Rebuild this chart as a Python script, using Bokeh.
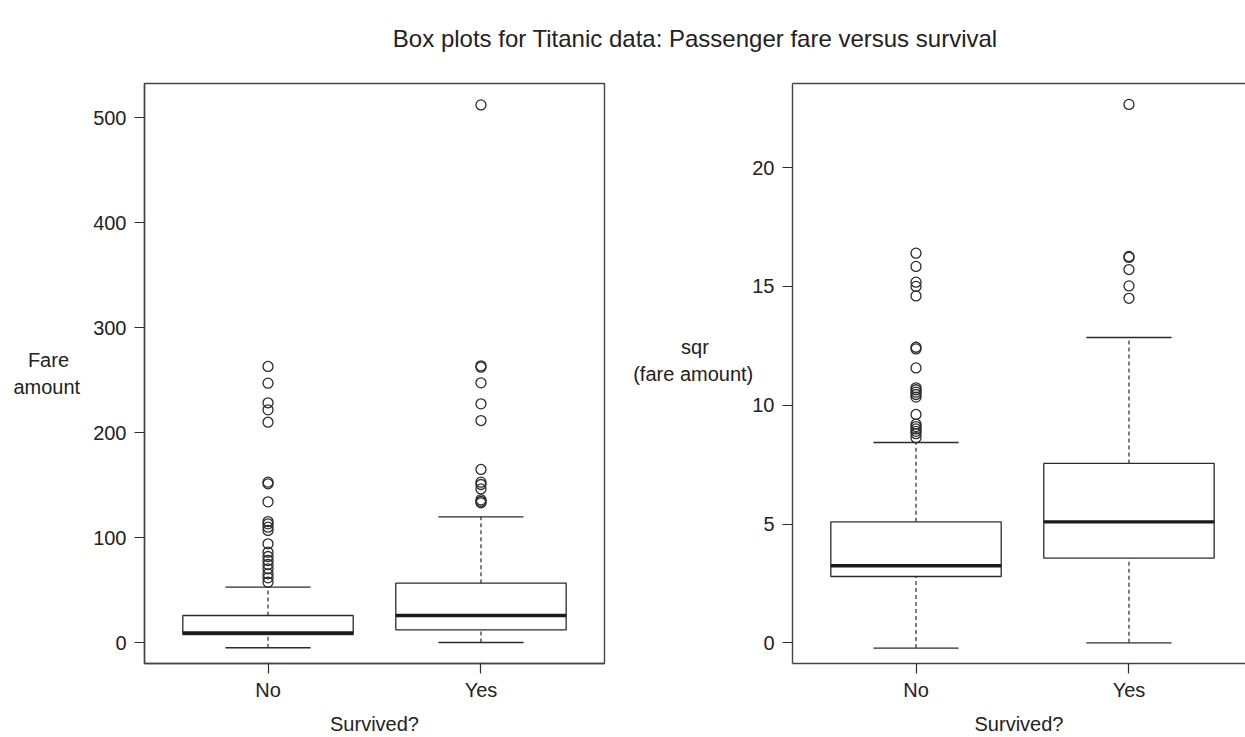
from bokeh.plotting import figure
from bokeh.models import Range1d, FixedTicker, LinearAxis, Div, ColumnDataSource
from bokeh.layouts import column, row
from bokeh.transform import dodge
from bokeh.embed import file_html
from bokeh.resources import INLINE

# ---------------- data ----------------
categories = ["No", "Yes"]

# Panel 1: fare amount
fare_lower = [-5.0, 0.0]
fare_q1 = [7.6, 12.1]
fare_median = [9.2, 25.7]
fare_q3 = [25.7, 56.5]
fare_upper = [52.7, 119.7]
fare_out_no = [57.4, 61.6, 65.4, 70.2, 74.3, 78.1, 81.9, 86.0, 94.0, 106.7,
               109.8, 113.0, 115.2, 134.0, 151.1, 152.7, 209.8, 221.6, 228.3,
               247.0, 262.9]
fare_out_yes = [133.0, 134.3, 135.9, 146.3, 150.5, 152.7, 164.8, 211.4, 227.3,
                247.3, 262.2, 263.5, 512.0]
fare_ticks = [0, 100, 200, 300, 400, 500]

# Panel 2: square root of fare amount
sqr_lower = [-0.22, 0.0]
sqr_q1 = [2.79, 3.56]
sqr_median = [3.24, 5.09]
sqr_q3 = [5.09, 7.55]
sqr_upper = [8.43, 12.85]
sqr_out_no = [8.63, 8.8, 8.9, 9.0, 9.1, 9.2, 9.61, 10.34, 10.45, 10.55, 10.65,
              10.73, 11.57, 12.37, 12.44, 14.6, 15.0, 15.18, 15.84, 16.4]
sqr_out_yes = [14.5, 15.02, 15.71, 16.22, 16.26, 22.66]
sqr_ticks = [0, 5, 10, 15, 20]

title_text = "Box plots for Titanic data: Passenger fare versus survival"
xlabel = "Survived?"
NB = "\u00a0"
# lines are right-aligned by the axis; non-breaking spaces centre the short line
ylabel_fare = "Fare" + NB * 2 + "\namount"
ylabel_sqr = "sqr" + NB * 8 + "\n(fare amount)\n" + NB

# ---------------- styling ----------------
FONT = "Liberation Sans"
TXT = "#222222"
LINE = "#2b2b2b"
FRAME = "#444444"
FS = "20px"


def panel(width, b_left, b_right, x_end, y_lo, y_hi, yticks, ylabel,
          lo, q1, med, q3, hi, out_no, out_yes, full_outline, label_standoff):
    p = figure(width=width, height=677,
               x_range=Range1d(0.42, x_end), y_range=Range1d(y_lo, y_hi),
               output_backend="svg", toolbar_location=None,
               min_border_left=b_left, min_border_right=b_right,
               min_border_top=23, min_border_bottom=74)
    p.grid.visible = False
    p.background_fill_color = "white"
    p.border_fill_color = "white"

    xs = [i + 1 for i in range(len(categories))]
    src = ColumnDataSource(dict(x=xs, lo=lo, q1=q1, med=med, q3=q3, hi=hi))

    # whiskers
    p.segment(x0="x", y0="q3", x1="x", y1="hi", source=src,
              line_dash="4 3", line_width=1.2, line_color=LINE)
    p.segment(x0="x", y0="lo", x1="x", y1="q1", source=src,
              line_dash="4 3", line_width=1.2, line_color=LINE)
    # staples
    p.segment(x0=dodge("x", -0.2), y0="hi", x1=dodge("x", 0.2), y1="hi",
              source=src, line_width=1.3, line_color=LINE)
    p.segment(x0=dodge("x", -0.2), y0="lo", x1=dodge("x", 0.2), y1="lo",
              source=src, line_width=1.3, line_color=LINE)
    # boxes
    p.vbar(x="x", width=0.8, bottom="q1", top="q3", source=src,
           fill_color="white", line_color=LINE, line_width=1.3)
    # medians
    p.segment(x0=dodge("x", -0.4), y0="med", x1=dodge("x", 0.4), y1="med",
              source=src, line_width=3.4, line_color="#1a1a1a")
    # outliers
    ox = [xs[0]] * len(out_no) + [xs[1]] * len(out_yes)
    oy = list(out_no) + list(out_yes)
    p.scatter(ox, oy, marker="circle", size=10, fill_color=None,
              line_color=LINE, line_width=1.3)

    # axes
    for ax in (p.xaxis, p.yaxis):
        ax.major_label_text_font = FONT
        ax.major_label_text_font_size = FS
        ax.major_label_text_color = TXT
        ax.axis_label_text_font = FONT
        ax.axis_label_text_font_size = FS
        ax.axis_label_text_font_style = "normal"
        ax.axis_label_text_color = TXT
        ax.major_tick_out = 10
        ax.major_tick_in = 0
        ax.major_tick_line_color = LINE
        ax.major_tick_line_width = 1.2
        ax.minor_tick_line_color = None
        ax.axis_line_color = FRAME
        ax.axis_line_width = 1.4

    p.xaxis.ticker = FixedTicker(ticks=xs)
    p.xaxis.major_label_overrides = {x: c for x, c in zip(xs, categories)}
    p.xaxis.major_label_standoff = 5
    p.xaxis.axis_label = xlabel
    p.xaxis.axis_label_standoff = 9

    p.yaxis.ticker = FixedTicker(ticks=yticks)
    p.yaxis.major_label_standoff = 8
    p.yaxis.axis_label = ylabel
    p.yaxis.axis_label_standoff = label_standoff
    p.yaxis.axis_label_orientation = "horizontal"

    if full_outline:
        p.outline_line_color = FRAME
        p.outline_line_width = 1.4
    else:
        p.outline_line_color = None
        top = LinearAxis(ticker=FixedTicker(ticks=[]), major_label_text_font_size="0px",
                         axis_line_color=FRAME, axis_line_width=1.4,
                         major_tick_line_color=None, minor_tick_line_color=None)
        p.add_layout(top, "above")
    return p


# pixel geometry: frames 460 px wide for 0.42..2.58
p1 = panel(615, 144, 11, 2.58, -20.0, 532.4, fare_ticks, ylabel_fare,
           fare_lower, fare_q1, fare_median, fare_q3, fare_upper,
           fare_out_no, fare_out_yes, True, 10)
p2 = panel(630, 177, 0, 0.42 + 453 / 212.96, -0.871, 23.54, sqr_ticks, ylabel_sqr,
           sqr_lower, sqr_q1, sqr_median, sqr_q3, sqr_upper,
           sqr_out_no, sqr_out_yes, False, -4)

title = Div(text=title_text, width=1245, height=60, margin=(0, 0, 0, 0),
            styles={"text-align": "center", "font-family": FONT,
                    "font-size": "24px", "color": TXT, "padding-top": "22px",
                    "padding-left": "145px", "box-sizing": "border-box"})

layout = column(title, row(p1, p2, spacing=0), spacing=0)
open("out.html", "w").write(file_html(layout, INLINE))
